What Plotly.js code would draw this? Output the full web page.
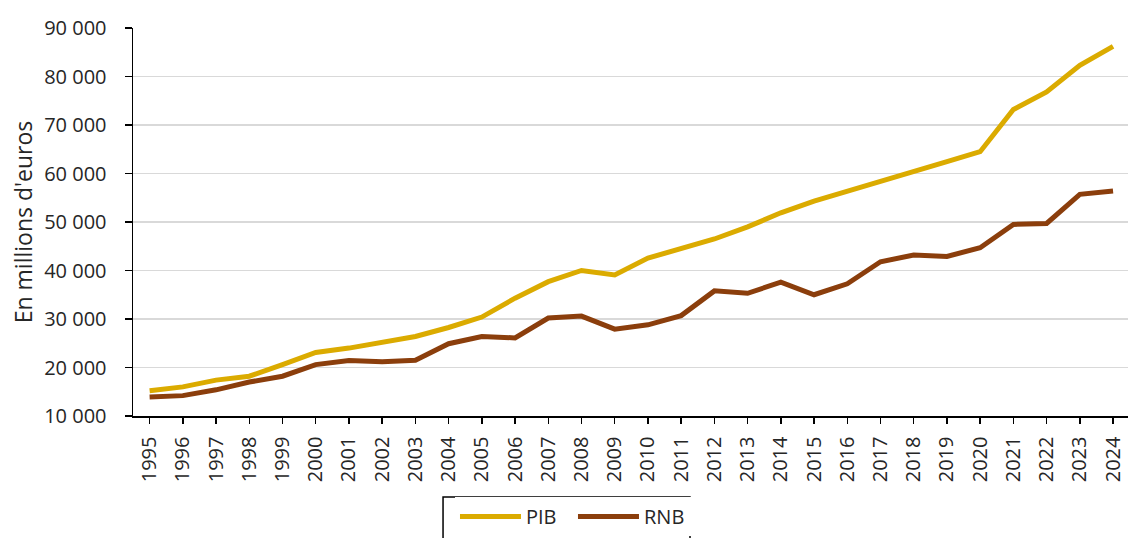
<!DOCTYPE html>
<html>
<head>
<meta charset="utf-8">
<script src="https://cdn.plot.ly/plotly-3.0.1.min.js"></script>
<style>html,body{margin:0;padding:0;background:#fff;}#chart{width:1128px;height:538px;}</style>
</head>
<body>
<div id="chart"></div>
<script>
const years = ["1995","1996","1997","1998","1999","2000","2001","2002","2003","2004","2005","2006","2007","2008","2009","2010","2011","2012","2013","2014","2015","2016","2017","2018","2019","2020","2021","2022","2023","2024"];
const pib = [15200,16000,17400,18200,20600,23100,24000,25200,26400,28250,30400,34300,37700,40000,39100,42550,44400,46500,49000,51900,54300,56400,58300,60400,62450,64500,73200,76800,82300,86200];
const rnb = [13900,14200,15400,17000,18200,20600,21450,21200,21500,24900,26400,26100,30200,30600,27900,28800,30700,35800,35300,37600,35000,37250,41800,43200,42900,44700,49500,49700,55700,56400];
const seriesNames = ["PIB","RNB"];
const yTitle = "En millions d'euros";

const font = "'Open Sans', sans-serif";
const traces = [
  {x: years, y: pib, name: seriesNames[0], type: 'scatter', mode: 'lines', line: {color: '#dbab00', width: 5}},
  {x: years, y: rnb, name: seriesNames[1], type: 'scatter', mode: 'lines', line: {color: '#8b3e0c', width: 5}}
];
const layout = {
  width: 1128, height: 538,
  margin: {l: 133, r: 0, t: 28, b: 122},
  paper_bgcolor: '#fff', plot_bgcolor: '#fff',
  separators: ', ',
  font: {family: font, size: 20, color: '#262626'},
  showlegend: true,
  legend: {orientation: 'h', x: 0.3236, xanchor: 'left', y: -0.209, yanchor: 'top',
           borderwidth: 0, font: {size: 20, color: '#262626'}, itemwidth: 61, entrywidth: 42},
  shapes: [{type: 'rect', xref: 'paper', yref: 'paper', x0: 0.3116, x1: 0.5598, y0: -0.2088, y1: -0.33,
            line: {color: '#000', width: 1.5}, fillcolor: 'rgba(0,0,0,0)'}],
  xaxis: {type: 'category', range: [-0.5, 29.45], showgrid: false, zeroline: false,
          showline: true, linecolor: '#000', linewidth: 1.5,
          ticks: 'outside', ticklen: 6, tickcolor: '#000', tickwidth: 1.5,
          tickangle: -90, ticklabelstandoff: 5, tickfont: {size: 20}},
  yaxis: {range: [10000, 90000], dtick: 10000, tickformat: ',d', showgrid: true,
          gridcolor: '#d9d9d9', gridwidth: 1.5, zeroline: false,
          showline: true, linecolor: '#000', linewidth: 1.5,
          ticks: 'outside', ticklen: 7, tickcolor: '#000', tickwidth: 1.5,
          ticklabelstandoff: 14, tickfont: {size: 20},
          title: {text: yTitle, font: {size: 23}, standoff: 5}}
};
Plotly.newPlot('chart', traces, layout, {displayModeBar: false, staticPlot: true});
</script>
</body>
</html>
